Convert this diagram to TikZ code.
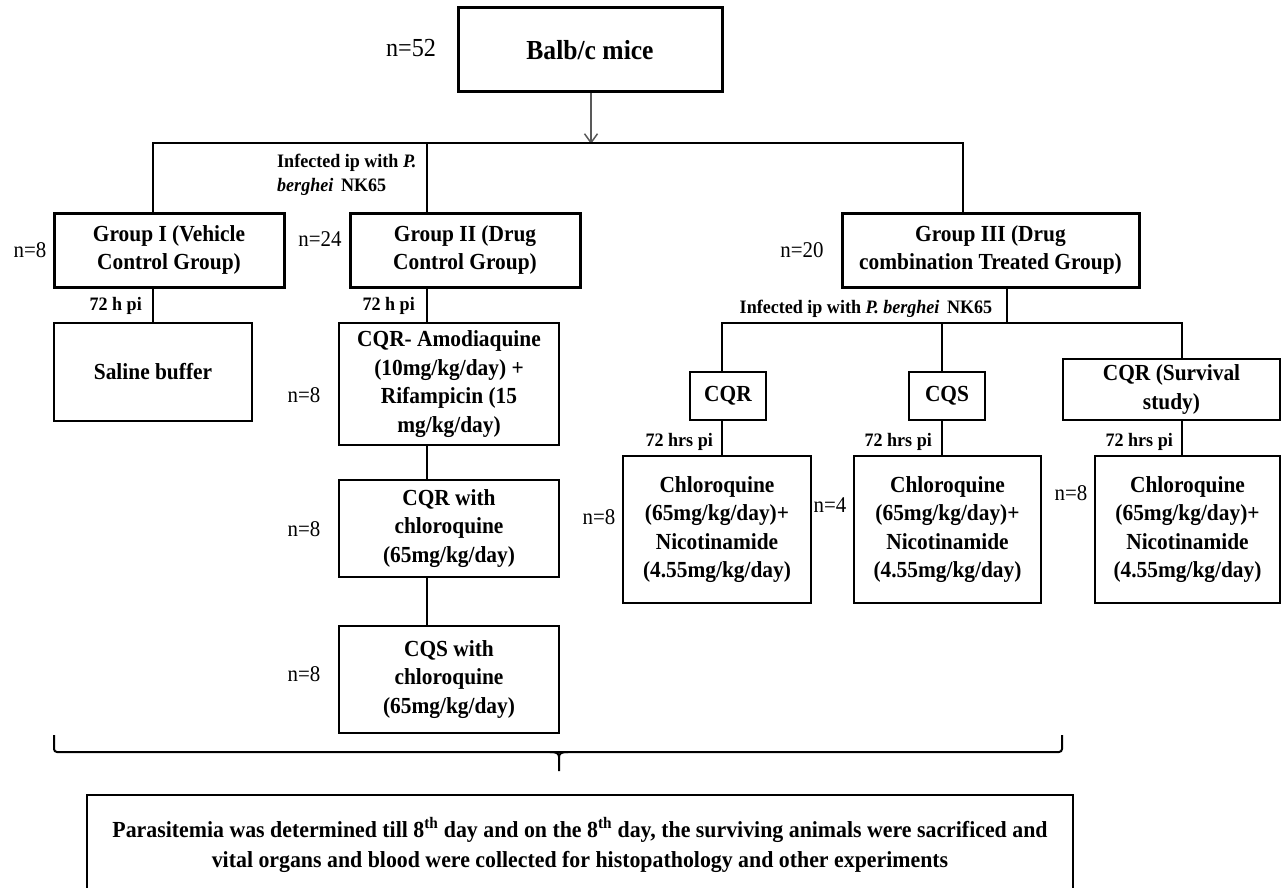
\documentclass[tikz,border=0pt]{standalone}
\usepackage{fontspec}
\setmainfont{Liberation Serif}
\newfontfamily\condserif[FakeStretch=0.93]{Liberation Serif}
\newfontfamily\condserifb[FakeStretch=0.95]{Liberation Serif}
\usetikzlibrary{arrows.meta}
\newcommand\myboxfont{\condserif\bfseries\fontsize{23}{28.5}\selectfont}
\newcommand\mybigfont{\condserif\bfseries\fontsize{27.5}{30}\selectfont}
\newcommand\mynumfont{\condserif\fontsize{22.5}{27}\selectfont}
\newcommand\mybignum{\condserif\fontsize{26}{30}\selectfont}
\newcommand\mysmallfont{\condserifb\bfseries\fontsize{19}{24}\selectfont}
\newcommand\mybottomfont{\condserifb\bfseries\fontsize{23}{30}\selectfont}
\tikzset{
  box/.style={draw, line width=2pt, align=center, inner sep=0pt, font=\myboxfont},
  tbox/.style={box, line width=3pt},
  nlab/.style={font=\mynumfont, inner sep=0pt},
  slab/.style={font=\mysmallfont, inner sep=0pt, align=left},
  conn/.style={line width=2pt},
  arr/.style={line width=1.5pt, draw=black!65, -{Straight Barb[length=9pt,width=13pt,line width=1.5pt]}}
}
\begin{document}
\begin{tikzpicture}[x=1pt,y=-1pt]
\useasboundingbox (0,0) rectangle (1282,888);
\fill[white] (0,0) rectangle (1282,888);

% top
\node[tbox, font=\mybigfont, minimum width=264, minimum height=84] (balb) at (590,50) {Balb/c mice};
\node[nlab, font=\mybignum] (n52) at (411,48) {n=52};

\coordinate (tl) at (153,143);
\coordinate (tm) at (427,143);
\coordinate (tr) at (963,143);
\coordinate (top) at (591,143);

% groups
\node[tbox, minimum width=230, minimum height=74] (g1) at (169,250) {Group I (Vehicle\\Control Group)};
\node[tbox, minimum width=230, minimum height=74] (g2) at (465,250) {Group II (Drug\\Control Group)};
\node[tbox, minimum width=297, minimum height=74] (g3) at (990.5,250) {Group III (Drug\\combination Treated Group)};
\node[nlab] (n8a) at (30,250) {n=8};
\node[nlab] (n24) at (320,239) {n=24};
\node[nlab] (n20) at (802,250) {n=20};

\draw[arr] (balb.south -| top) -- ([yshift=-1pt]top);
\draw[conn] (g1.north -| tl) -- (tl) -- (tr) -- (g3.north -| tr);
\draw[conn] (tm) -- (g2.north -| tm);
\node[slab, anchor=north west] (inf1) at (277,154) {Infected ip with \textit{P.}\\\textit{berghei} \,NK65};

% group I
\node[box, minimum width=198, minimum height=98] (saline) at (153,372) {Saline buffer};
\draw[conn] (g1.south -| tl) -- (saline.north -| tl);
\node[slab, anchor=east] (h1) at (142,306) {72 h pi};

% group II
\node[box, minimum width=220, minimum height=122] (amod) at (449,384) {CQR- Amodiaquine\\(10mg/kg/day) +\\Rifampicin (15\\mg/kg/day)};
\node[box, minimum width=220, minimum height=97] (cqrchl) at (449,528.5) {CQR with\\chloroquine\\(65mg/kg/day)};
\node[box, minimum width=220, minimum height=107] (cqschl) at (449,679.5) {CQS with\\chloroquine\\(65mg/kg/day)};
\node[slab, anchor=east] (h2) at (415,306) {72 h pi};
\node[nlab] (n8b) at (304,395) {n=8};
\node[nlab] (n8c) at (304,529) {n=8};
\node[nlab] (n8d) at (304,674) {n=8};
\draw[conn] (g2.south -| tm) -- (amod.north -| tm);
\draw[conn] (amod.south -| tm) -- (cqrchl.north -| tm);
\draw[conn] (cqrchl.south -| tm) -- (cqschl.north -| tm);

% group III
\coordinate (sl) at (722,323);
\coordinate (sm) at (942,323);
\coordinate (sr) at (1182,323);
\coordinate (sj) at (1007,323);
\node[box, minimum width=76, minimum height=48] (cqr) at (728,396) {CQR};
\node[box, minimum width=76, minimum height=48] (cqs) at (947,396) {CQS};
\node[box, minimum width=217, minimum height=61] (cqrs) at (1171.5,389.5) {CQR (Survival\\study)};
\draw[conn] (g3.south -| sj) -- (sj);
\draw[conn] (cqr.north -| sl) -- (sl) -- (sr) -- (cqrs.north -| sr);
\draw[conn] (sm) -- (cqs.north -| sm);
\node[slab, anchor=south] (inf2) at (866,318) {Infected ip with \textit{P. berghei} \,NK65};

\node[box, minimum width=188, minimum height=147] (ch1) at (717,529.5) {Chloroquine\\(65mg/kg/day)+\\Nicotinamide\\(4.55mg/kg/day)};
\node[box, minimum width=187, minimum height=147] (ch2) at (947.5,529.5) {Chloroquine\\(65mg/kg/day)+\\Nicotinamide\\(4.55mg/kg/day)};
\node[box, minimum width=185, minimum height=147] (ch3) at (1187.5,529.5) {Chloroquine\\(65mg/kg/day)+\\Nicotinamide\\(4.55mg/kg/day)};
\draw[conn] (cqr.south -| sl) -- (ch1.north -| sl);
\draw[conn] (cqs.south -| sm) -- (ch2.north -| sm);
\draw[conn] (cqrs.south -| sr) -- (ch3.north -| sr);
\node[slab, anchor=east] (h3) at (713,442) {72 hrs pi};
\node[slab, anchor=east] (h4) at (932,442) {72 hrs pi};
\node[slab, anchor=east] (h5) at (1173,442) {72 hrs pi};
\node[nlab] (n8e) at (599,517) {n=8};
\node[nlab] (n4) at (830,505) {n=4};
\node[nlab] (n8f) at (1071,493) {n=8};

% brace
\coordinate (bl) at (54,735);
\coordinate (br) at (1062,735);
\coordinate (bm) at (559,771);
\draw[conn, rounded corners=3pt] (bl) -- (54,752) -- (1062,752) -- (br);
\draw[conn] (bm) -- (559,757) .. controls (559,753) and (556,752) .. (550,752);
\draw[conn] (559,757) .. controls (559,753) and (562,752) .. (568,752);

% bottom
\begin{scope}
\clip (0,0) rectangle (1282,888);
\node[box, line width=2.5pt, font=\mybottomfont, minimum width=986, minimum height=100] (bottom) at (580,845) {Parasitemia was determined till 8\textsuperscript{th} day and on the 8\textsuperscript{th} day, the surviving animals were sacrificed and\\vital organs and blood were collected for histopathology and other experiments};
\end{scope}
\end{tikzpicture}
\end{document}
